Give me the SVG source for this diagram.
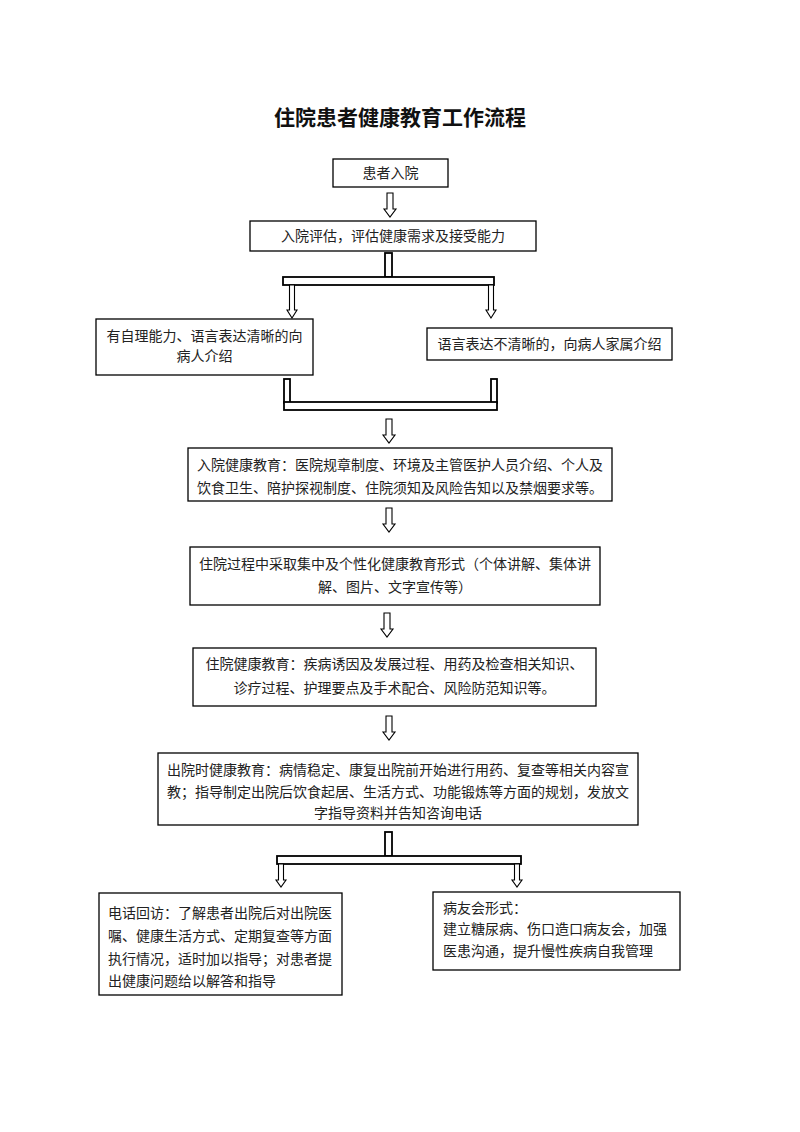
<svg xmlns="http://www.w3.org/2000/svg" width="800" height="1132" viewBox="0 0 800 1132">
<style>
.bg{fill:#ffffff}
.box{fill:#ffffff;stroke:#000000;stroke-width:1.3}
.bar{fill:#ffffff;stroke:#000000;stroke-width:1.8}
.arr{fill:#ffffff;stroke:#000000;stroke-width:1.1;stroke-linejoin:miter}
text{font-family:"Liberation Serif","Noto Sans CJK SC",serif;font-size:14px;fill:#222222;dominant-baseline:central}
.c{text-anchor:middle}
.title{font-size:21px;font-weight:bold;fill:#111111}
</style>
<defs>
<polygon id="bigArrow" points="-3,0 3,0 3,16 6,16 0,24 -6,16 -3,16" class="arr"/>
</defs>
<rect class="bg" x="0" y="0" width="800" height="1132"/>
<text class="c title" x="400" y="118">住院患者健康教育工作流程</text>

<g id="connectors">
  <use href="#bigArrow" x="390" y="193"/>
  <rect class="bar" x="385" y="253" width="7" height="24"/>
  <rect class="bar" x="283" y="277" width="211" height="8"/>
  <polygon class="arr" points="289.5,285 294.5,285 294.5,310 297,310 292,318 287,310 289.5,310"/>
  <polygon class="arr" points="488.5,285 493.5,285 493.5,310 496,310 491,318 486,310 488.5,310"/>
  <rect class="bar" x="284" y="379" width="6" height="24"/>
  <rect class="bar" x="491" y="379" width="6" height="24"/>
  <rect class="bar" x="284" y="402" width="213" height="8"/>
  <use href="#bigArrow" x="389" y="419"/>
  <use href="#bigArrow" x="389" y="508"/>
  <use href="#bigArrow" x="387" y="613"/>
  <use href="#bigArrow" x="389" y="716"/>
  <rect class="bar" x="385" y="832" width="7" height="24"/>
  <rect class="bar" x="277" y="856" width="244" height="8"/>
  <polygon class="arr" points="278.5,864 283.5,864 283.5,880 286,880 281,887 276,880 278.5,880"/>
  <polygon class="arr" points="514.5,864 519.5,864 519.5,880 522,880 517,887 512,880 514.5,880"/>
</g>

<g id="node-admit">
  <rect class="box" x="333" y="159" width="115" height="28"/>
  <text class="c" x="390.5" y="173.5">患者入院</text>
</g>
<g id="node-assess">
  <rect class="box" x="250" y="221" width="286" height="30"/>
  <text class="c" x="393" y="236">入院评估，评估健康需求及接受能力</text>
</g>
<g id="node-patient">
  <rect class="box" x="96" y="319" width="217" height="56"/>
  <text class="c" x="204.5" y="336">有自理能力、语言表达清晰的向</text>
  <text class="c" x="204.5" y="356">病人介绍</text>
</g>
<g id="node-family">
  <rect class="box" x="427" y="328" width="245" height="32"/>
  <text class="c" x="549.5" y="344">语言表达不清晰的，向病人家属介绍</text>
</g>
<g id="node-admission-edu">
  <rect class="box" x="188" y="448" width="424" height="53"/>
  <text class="c" x="400" y="465">入院健康教育：医院规章制度、环境及主管医护人员介绍、个人及</text>
  <text class="c" x="400" y="488">饮食卫生、陪护探视制度、住院须知及风险告知以及禁烟要求等。</text>
</g>
<g id="node-forms">
  <rect class="box" x="190" y="547" width="410" height="58"/>
  <text class="c" x="395" y="564">住院过程中采取集中及个性化健康教育形式（个体讲解、集体讲</text>
  <text class="c" x="395" y="587">解、图片、文字宣传等）</text>
</g>
<g id="node-inpatient-edu">
  <rect class="box" x="193" y="648" width="403" height="58"/>
  <text class="c" x="394.5" y="664">住院健康教育：疾病诱因及发展过程、用药及检查相关知识、</text>
  <text class="c" x="394.5" y="688">诊疗过程、护理要点及手术配合、风险防范知识等。</text>
</g>
<g id="node-discharge-edu">
  <rect class="box" x="158" y="753" width="480" height="72"/>
  <text class="c" x="398" y="770">出院时健康教育：病情稳定、康复出院前开始进行用药、复查等相关内容宣</text>
  <text class="c" x="398" y="792">教；指导制定出院后饮食起居、生活方式、功能锻炼等方面的规划，发放文</text>
  <text class="c" x="398" y="813">字指导资料并告知咨询电话</text>
</g>
<g id="node-phone">
  <rect class="box" x="99" y="893" width="243" height="102"/>
  <text x="108" y="913">电话回访：了解患者出院后对出院医</text>
  <text x="108" y="936">嘱、健康生活方式、定期复查等方面</text>
  <text x="108" y="959">执行情况，适时加以指导；对患者提</text>
  <text x="108" y="981">出健康问题给以解答和指导</text>
</g>
<g id="node-club">
  <rect class="box" x="433" y="892" width="247" height="78"/>
  <text x="443" y="908">病友会形式：</text>
  <text x="443" y="929">建立糖尿病、伤口造口病友会，加强</text>
  <text x="443" y="951">医患沟通，提升慢性疾病自我管理</text>
</g>
</svg>
